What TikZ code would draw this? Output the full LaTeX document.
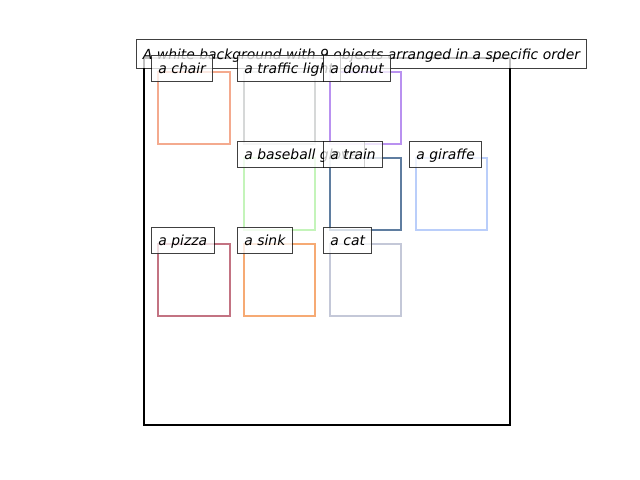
\documentclass[tikz,border=0pt]{standalone}
\usepackage{fontspec}
\setmainfont{DejaVu Sans}
\begin{document}
\begin{tikzpicture}[x=0.72pt,y=-0.72pt,
  objbox/.style={line width=2pt},
  lbl/.style={anchor=west, fill=white, draw=black, opacity=0.75, text opacity=1,
    line width=0.72pt, inner xsep=5pt, inner ysep=0pt, minimum height=19.4pt,
    text height=8.8pt, text depth=1.6pt, font=\fontsize{10}{12}\selectfont\itshape},
  ttl/.style={anchor=center, fill=white, draw=black, opacity=0.75, text opacity=1,
    line width=0.72pt, inner sep=0pt, minimum width=323.3pt, minimum height=20.2pt,
    text height=8.8pt, text depth=1.6pt, font=\fontsize{10}{12}\selectfont\itshape}]
\definecolor{cchair}{RGB}{244,170,142}
\definecolor{ctraffic}{RGB}{214,216,216}
\definecolor{cdonut}{RGB}{185,145,240}
\definecolor{cglove}{RGB}{196,244,186}
\definecolor{ctrain}{RGB}{95,125,160}
\definecolor{cgiraffe}{RGB}{186,206,250}
\definecolor{cpizza}{RGB}{195,115,130}
\definecolor{csink}{RGB}{246,170,116}
\definecolor{ccat}{RGB}{196,200,216}
\useasboundingbox (0,0) rectangle (640,480);
\draw[line width=2pt, black] (144,58) rectangle (510,425);
\draw[objbox, cchair] (158,72) rectangle (230,144);
\draw[objbox, ctraffic] (244,72) rectangle (315,144);
\draw[objbox, cdonut] (330,72) rectangle (401,144);
\draw[objbox, cglove] (244,158) rectangle (315,230);
\draw[objbox, ctrain] (330,158) rectangle (401,230);
\draw[objbox, cgiraffe] (416,158) rectangle (487,230);
\draw[objbox, cpizza] (158,244) rectangle (230,316);
\draw[objbox, csink] (244,244) rectangle (315,316);
\draw[objbox, ccat] (330,244) rectangle (401,316);
\node[ttl] (title) at (361.5,54) {A white background with 9 objects arranged in a specific order};
\node[lbl] (lchair) at (151,68.5) {a chair};
\node[lbl] (ltraffic) at (237,68.5) {a traffic light};
\node[lbl] (ldonut) at (323,68.5) {a donut};
\node[lbl] (lglove) at (237,154.5) {a baseball glove};
\node[lbl] (ltrain) at (323,154.5) {a train};
\node[lbl] (lgiraffe) at (409,154.5) {a giraffe};
\node[lbl] (lpizza) at (151,240.5) {a pizza};
\node[lbl] (lsink) at (237,240.5) {a sink};
\node[lbl] (lcat) at (323,240.5) {a cat};
\end{tikzpicture}
\end{document}
